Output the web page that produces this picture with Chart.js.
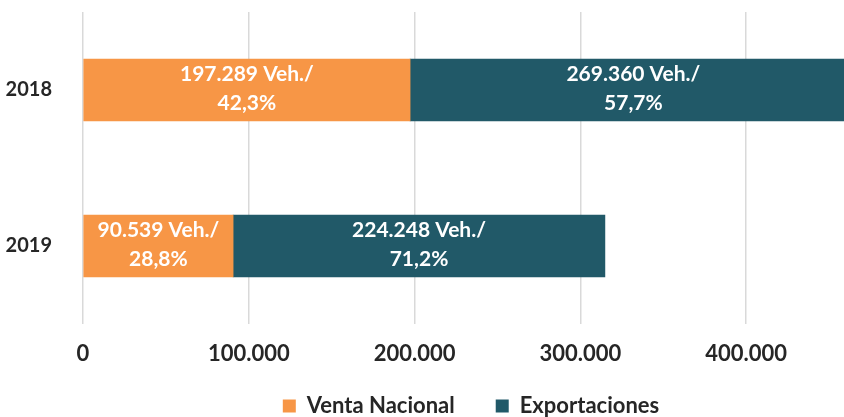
<!DOCTYPE html>
<html lang="es">
<head>
  <meta charset="UTF-8" />
  <title>Venta Nacional vs Exportaciones</title>
  <script src="https://cdn.jsdelivr.net/npm/chart.js"></script>
  <style>
    html, body { margin: 0; padding: 0; background: #fff; }
    #wrap { width: 844px; height: 417px; }
  </style>
</head>
<body>
  <div id="wrap"><canvas id="chart"></canvas></div>

  <script>
    const years = ['2018', '2019'];
    const ventaNacional = [197289, 90539];
    const exportaciones = [269360, 224248];
    const ventaPct = ['42,3%', '28,8%'];
    const exportPct = ['57,7%', '71,2%'];
    const xTicks = [0, 100000, 200000, 300000, 400000];

    const FONT = 'Lato, "Open Sans", sans-serif';

    const fmt = n => n.toString().replace(/\B(?=(\d{3})+(?!\d))/g, '.');

    // draws "value Veh./" + percentage inside each bar segment
    const barLabels = {
      id: 'barLabels',
      afterDatasetsDraw(chart) {
        const ctx = chart.ctx;
        ctx.save();
        ctx.fillStyle = '#ffffff';
        ctx.font = 'bold 21px ' + FONT;
        ctx.textAlign = 'center';
        ctx.textBaseline = 'middle';
        chart.data.datasets.forEach((ds, di) => {
          chart.getDatasetMeta(di).data.forEach((bar, i) => {
            const cx = (bar.base + bar.x) / 2;
            ctx.fillText(fmt(ds.data[i]) + ' Veh./', cx, bar.y - 16);
            ctx.fillText(ds.pcts[i], cx, bar.y + 13);
          });
        });
        ctx.restore();
      }
    };

    // legend: keep its box short (the item padding is only there for the
    // horizontal gap) and nudge the items right/up like the original
    const legendTweak = {
      id: 'legendTweak',
      beforeUpdate(chart) {
        const lg = chart.legend;
        if (lg && !lg._patched) {
          const fit = lg.fit;
          const inner = lg._draw;
          lg.fit = function () { fit.call(this); this.height = 28; };
          lg._draw = function () {
            this.ctx.save();
            this.ctx.translate(49, -35);
            inner.call(this);
            this.ctx.restore();
          };
          lg._patched = true;
        }
      }
    };

    new Chart(document.getElementById('chart'), {
      type: 'bar',
      data: {
        labels: years,
        datasets: [
          { label: 'Venta Nacional', data: ventaNacional, pcts: ventaPct,
            backgroundColor: '#F79646', barThickness: 62 },
          { label: 'Exportaciones', data: exportaciones, pcts: exportPct,
            backgroundColor: '#215968', barThickness: 62 }
        ]
      },
      options: {
        indexAxis: 'y',
        responsive: true,
        maintainAspectRatio: false,
        animation: false,
        layout: { padding: { top: 12, right: 0, bottom: 0, left: 0 } },
        scales: {
          x: {
            stacked: true,
            min: 0,
            max: 459000,
            afterBuildTicks: scale => { scale.ticks = xTicks.map(v => ({ value: v })); },
            afterFit: scale => { scale.height = 65; },
            grid: { color: '#d9d9d9', lineWidth: 1.5, drawTicks: false },
            border: { display: false },
            ticks: {
              padding: 17,
              color: '#262626',
              font: { family: FONT, size: 22, weight: 'bold' },
              callback: v => fmt(v)
            }
          },
          y: {
            stacked: true,
            afterFit: scale => {
              scale.width = 83;
              scale.paddingTop = 0;
              scale.paddingBottom = 0;
            },
            grid: { display: false },
            border: { display: false },
            ticks: {
              padding: 23,
              color: '#262626',
              font: { family: FONT, size: 20, weight: 'bold' }
            }
          }
        },
        plugins: {
          legend: {
            position: 'bottom',
            labels: {
              boxWidth: 13,
              boxHeight: 13,
              padding: 41,
              color: '#262626',
              font: { family: FONT, size: 22, weight: 'bold' }
            }
          },
          tooltip: { enabled: false }
        }
      },
      plugins: [barLabels, legendTweak]
    });
  </script>
</body>
</html>
